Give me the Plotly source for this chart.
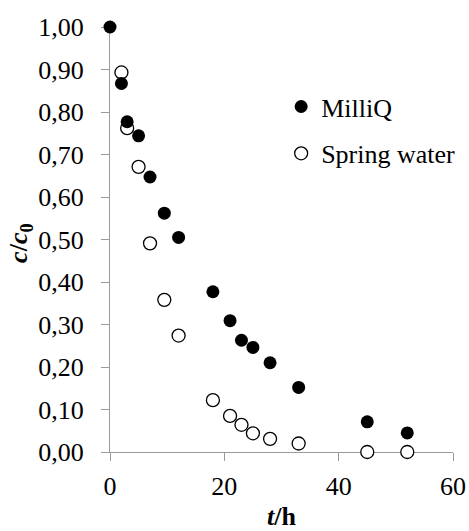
import plotly.graph_objects as go

# Data
t_milliq = [0, 2, 3, 5, 7, 9.5, 12, 18, 21, 23, 25, 28, 33, 45, 52]
c_milliq = [1.000, 0.867, 0.777, 0.744, 0.647, 0.562, 0.505, 0.377, 0.309, 0.263, 0.246, 0.210, 0.152, 0.071, 0.045]

t_spring = [2, 3, 5, 7, 9.5, 12, 18, 21, 23, 25, 28, 33, 45, 52]
c_spring = [0.893, 0.762, 0.671, 0.491, 0.358, 0.274, 0.122, 0.085, 0.064, 0.044, 0.031, 0.020, 0.000, 0.000]

y_tickvals = [0.0, 0.1, 0.2, 0.3, 0.4, 0.5, 0.6, 0.7, 0.8, 0.9, 1.0]
y_ticktext = ["0,00", "0,10", "0,20", "0,30", "0,40", "0,50", "0,60", "0,70", "0,80", "0,90", "1,00"]
x_tickvals = [0, 20, 40, 60]

FONT = "Liberation Serif, Times New Roman, serif"

fig = go.Figure()
fig.add_trace(go.Scatter(
    x=t_spring, y=c_spring, mode="markers", name="Spring water",
    marker=dict(symbol="circle", size=13, color="white", line=dict(color="black", width=1.3)),
    cliponaxis=False, legendrank=2, legendgroup="spring",
))
fig.add_trace(go.Scatter(
    x=t_milliq, y=c_milliq, mode="markers", name="MilliQ",
    marker=dict(symbol="circle", size=13, color="black", line=dict(color="black", width=0)),
    cliponaxis=False, legendrank=1, legendgroup="milliq",
))

axis_color = "#9a9a9a"
fig.update_layout(
    width=469, height=531,
    margin=dict(l=110, r=16, t=27, b=79, autoexpand=False),
    paper_bgcolor="white", plot_bgcolor="white",
    font=dict(family=FONT, size=26, color="black"),
    showlegend=True,
    legend=dict(x=0.499, y=0.868, xanchor="left", yanchor="top",
                bgcolor="rgba(0,0,0,0)", font=dict(size=26), itemsizing="trace",
                traceorder="grouped", tracegroupgap=10,
                entrywidth=110, entrywidthmode="pixels"),
    xaxis=dict(range=[0, 60], tickvals=x_tickvals, ticks="outside", ticklen=8,
               tickcolor=axis_color, showline=True, linecolor=axis_color, linewidth=1,
               showgrid=False, zeroline=False, layer="below traces",
               ticklabelstandoff=3, automargin=False),
    yaxis=dict(range=[0, 1], tickvals=y_tickvals, ticktext=y_ticktext, ticks="outside",
               ticklen=8, tickcolor=axis_color, showline=True, linecolor=axis_color,
               linewidth=1, showgrid=False, zeroline=False, layer="below traces",
               ticklabelstandoff=12, automargin=False),
    annotations=[
        dict(text="<b><i>c</i>/<i>c</i><sub>0</sub></b>", xref="paper", yref="paper",
             x=-0.262, y=0.49, xanchor="center", yanchor="middle", textangle=-90,
             showarrow=False, font=dict(size=26)),
        dict(text="<b><i>t</i>/h</b>", xref="paper", yref="paper",
             x=0.5, y=-0.152, xanchor="center", yanchor="middle",
             showarrow=False, font=dict(size=26)),
    ],
)

fig.write_html("out.html")
